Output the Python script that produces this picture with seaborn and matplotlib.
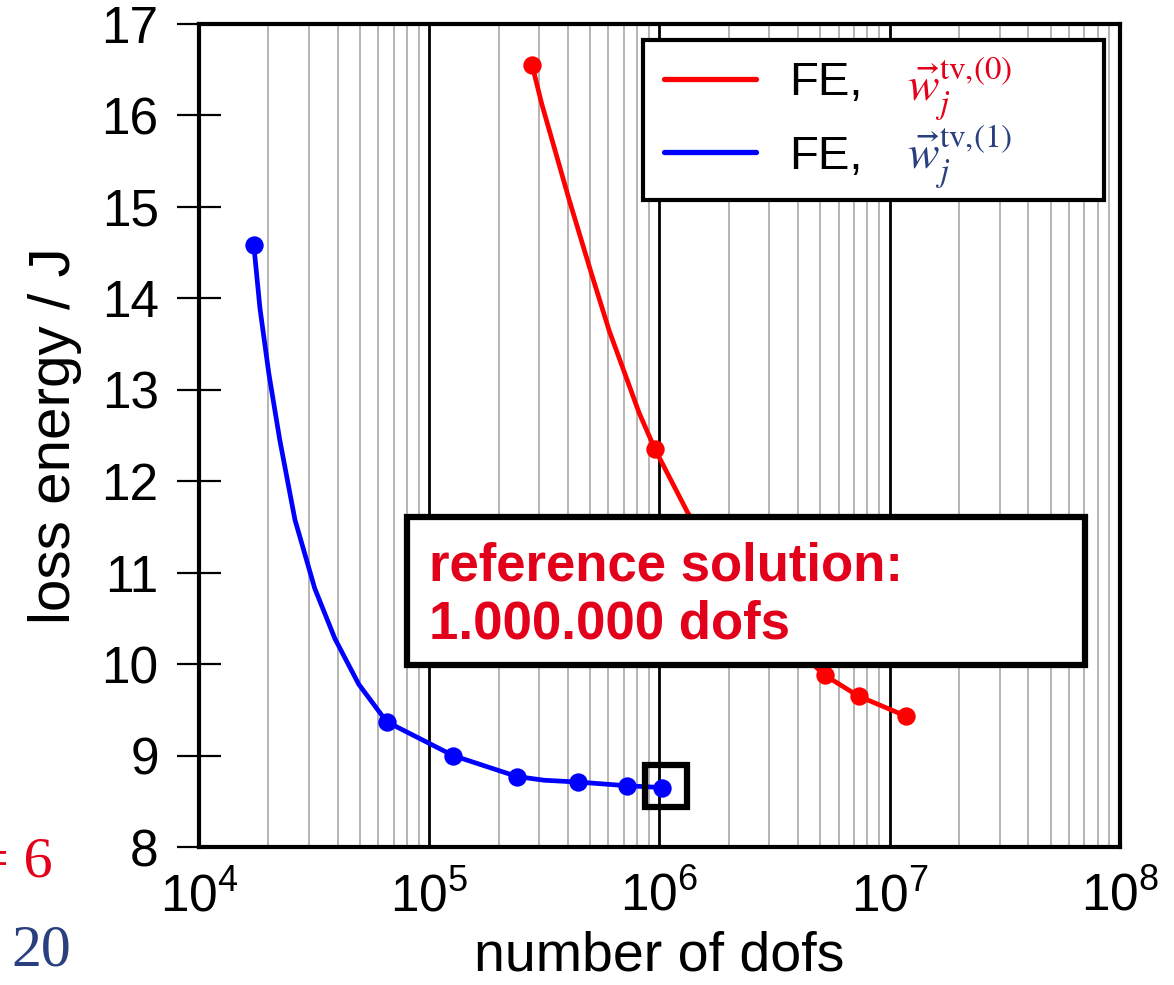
import numpy as np
import pandas as pd
import matplotlib
matplotlib.use('Agg')
import matplotlib.pyplot as plt
import matplotlib.patches as mpatches
from matplotlib.lines import Line2D
from matplotlib.ticker import LogLocator, NullFormatter
import seaborn as sns

# data
# FE, w^(0): markers + curve vertices
red_x = [2.80e5, 9.56e5, 5.21e6, 7.32e6, 1.18e7]
red_y = [16.55, 12.35, 9.88, 9.65, 9.43]
red_line_x = [2.80e5, 3.07e5, 4.05e5, 5.05e5, 6.04e5, 7.16e5, 8.15e5, 9.56e5,
              1.33e6, 2.75e6, 5.21e6, 7.32e6, 1.18e7]
red_line_y = [16.55, 16.14, 15.08, 14.28, 13.65, 13.14, 12.75, 12.35,
              11.65, 10.54, 9.88, 9.65, 9.43]

# FE, w^(1)
blue_x = [1.73e4, 6.53e4, 1.27e5, 2.41e5, 4.44e5, 7.23e5, 1.03e6]
blue_y = [14.58, 9.37, 9.00, 8.77, 8.71, 8.67, 8.65]
blue_line_x = [1.73e4, 1.84e4, 2.01e4, 2.24e4, 2.61e4, 3.18e4, 3.89e4, 4.94e4,
               6.53e4, 1.27e5, 2.41e5, 3.16e5, 4.44e5, 7.23e5, 1.03e6]
blue_line_y = [14.58, 13.89, 13.18, 12.46, 11.58, 10.83, 10.28, 9.78,
               9.37, 9.00, 8.77, 8.73, 8.71, 8.67, 8.65]

ref_x = [1.07e6]
ref_y = [8.667]

sns.set_style('white', {'text.color': 'black', 'xtick.color': 'black',
                        'ytick.color': 'black', 'axes.labelcolor': 'black',
                        'axes.edgecolor': 'black'})
plt.rcParams['font.family'] = ['Liberation Sans', 'DejaVu Sans']

RED = '#ff0000'
BLUE = '#0000ff'
TXT_RED = '#e2001a'
TXT_BLUE = '#2a3f7e'

fig = plt.figure(figsize=(11.74, 9.85), dpi=100)
ax = fig.add_axes([0.1695, 0.1401, 0.7845, 0.8355])

ax.set_xscale('log')
ax.set_xlim(1e4, 1e8)
ax.set_ylim(8, 17)

# grid: black decades, grey minors
ax.xaxis.set_major_locator(LogLocator(base=10, numticks=10))
ax.xaxis.set_minor_locator(LogLocator(base=10, subs=np.arange(2, 10), numticks=50))
ax.xaxis.set_minor_formatter(NullFormatter())
ax.grid(False)
ax.grid(True, which='minor', axis='x', color='#a0a0a0', lw=1.1, zorder=0)
ax.grid(True, which='major', axis='x', color='black', lw=2.0, zorder=0)
ax.set_axisbelow(True)

sns.lineplot(x=red_line_x, y=red_line_y, ax=ax, color=RED, lw=3.4, sort=False,
             estimator=None, zorder=3)
sns.lineplot(x=blue_line_x, y=blue_line_y, ax=ax, color=BLUE, lw=3.4, sort=False,
             estimator=None, zorder=3)
sns.scatterplot(x=red_x, y=red_y, ax=ax, color=RED, s=175, linewidth=0, zorder=4)
sns.scatterplot(x=blue_x, y=blue_y, ax=ax, color=BLUE, s=175, linewidth=0, zorder=4)
ax.plot(ref_x, ref_y, marker='s', ms=30, mfc='none', mec='black', mew=4.5,
        ls='none', zorder=5)

for s in ax.spines.values():
    s.set_linewidth(3)
    s.set_color('black')

ax.set_yticks(range(8, 18))
ax.tick_params(axis='y', which='major', direction='inout', length=32, width=1.6,
               labelsize=37, pad=13, left=True, right=False)
ax.tick_params(axis='x', which='major', direction='in', length=0,
               labelsize=37, pad=18, bottom=True)
ax.tick_params(axis='x', which='minor', length=0)

ax.set_xlabel('number of dofs', fontsize=40, labelpad=6)
ax.set_ylabel('loss energy / J', fontsize=42, labelpad=14)

# legend
handles = [Line2D([], [], color=RED, lw=3.8), Line2D([], [], color=BLUE, lw=3.8)]
leg = ax.legend(handles, ['FE,', 'FE,'], loc='upper left', mode='expand',
                bbox_to_anchor=(0.482, 0.7886, 0.501, 0.1920), fontsize=34,
                frameon=True, fancybox=False, framealpha=1, edgecolor='black',
                handlelength=1.95, handletextpad=0.7, labelspacing=0.62,
                borderpad=0.45, borderaxespad=0)
leg.get_frame().set_linewidth(3)
leg.set_zorder(6)
ax.text(0.769, 0.9216, r'$\vec{w}_j^{\mathrm{tv}{,}(0)}$', transform=ax.transAxes,
        fontsize=34, color=TXT_RED, math_fontfamily='stix', va='center',
        ha='left', zorder=7)
ax.text(0.769, 0.839, r'$\vec{w}_j^{\mathrm{tv}{,}(1)}$', transform=ax.transAxes,
        fontsize=34, color=TXT_BLUE, math_fontfamily='stix', va='center',
        ha='left', zorder=7)

# reference solution box
rect = mpatches.Rectangle((0.2254, 0.2211), 0.7367, 0.1798, transform=ax.transAxes,
                          facecolor='white', edgecolor='black', lw=4.5, zorder=6)
ax.add_patch(rect)
ax.text(0.25, 0.306, 'reference solution:\n1.000.000 dofs', transform=ax.transAxes,
        fontsize=38, fontweight='bold', color=TXT_RED, va='center', ha='left',
        linespacing=1.2, zorder=7)

# cut-off fragments at left margin
fig.text(0.045, 0.124, '= 6', fontsize=42, family='Liberation Serif', color=TXT_RED,
         ha='right', va='center')
fig.text(0.010, 0.0345, '20', fontsize=43, family='Liberation Serif', color=TXT_BLUE,
         ha='left', va='center')

fig.patch.set_facecolor('white')
fig.savefig('out.png', dpi=100)
